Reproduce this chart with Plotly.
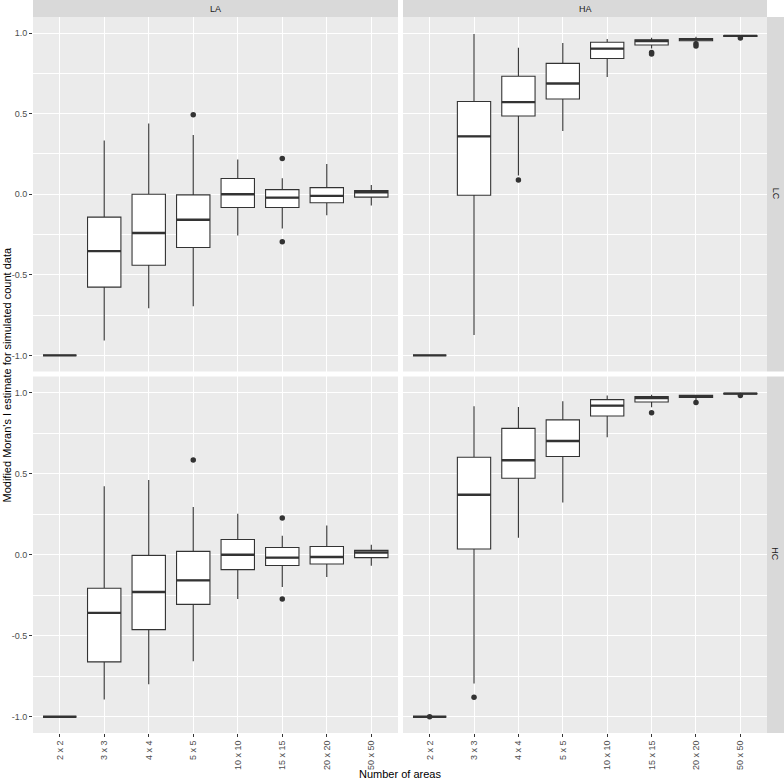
import plotly.graph_objects as go

categories = ["2 x 2", "3 x 3", "4 x 4", "5 x 5", "10 x 10", "15 x 15", "20 x 20", "50 x 50"]
col_labels = ["LA", "HA"]
row_labels = ["LC", "HC"]

# LA / LC
la_lc_low = [-1.0, -0.907, -0.708, -0.695, -0.256, -0.213, -0.131, -0.070]
la_lc_q1 = [-1.0, -0.576, -0.441, -0.330, -0.082, -0.082, -0.053, -0.018]
la_lc_med = [-1.0, -0.353, -0.240, -0.158, 0.000, -0.021, -0.010, 0.012]
la_lc_q3 = [-1.0, -0.142, 0.000, -0.004, 0.098, 0.029, 0.041, 0.023]
la_lc_high = [-1.0, 0.334, 0.439, 0.367, 0.215, 0.100, 0.187, 0.057]
la_lc_out_x = ["5 x 5", "15 x 15", "15 x 15"]
la_lc_out_y = [0.494, 0.222, -0.295]

# HA / LC
ha_lc_low = [-1.0, -0.874, 0.117, 0.392, 0.727, 0.905, 0.945, 0.979]
ha_lc_q1 = [-1.0, -0.006, 0.486, 0.591, 0.842, 0.926, 0.953, 0.980]
ha_lc_med = [-1.0, 0.359, 0.572, 0.687, 0.904, 0.951, 0.961, 0.983]
ha_lc_q3 = [-1.0, 0.576, 0.732, 0.812, 0.943, 0.959, 0.967, 0.985]
ha_lc_high = [-1.0, 0.995, 0.909, 0.939, 0.963, 0.971, 0.977, 0.988]
ha_lc_out_x = ["4 x 4", "15 x 15", "15 x 15", "20 x 20", "20 x 20", "50 x 50"]
ha_lc_out_y = [0.089, 0.880, 0.870, 0.934, 0.920, 0.969]

# LA / HC
la_hc_low = [-1.0, -0.893, -0.799, -0.657, -0.273, -0.199, -0.138, -0.068]
la_hc_q1 = [-1.0, -0.661, -0.462, -0.306, -0.092, -0.066, -0.057, -0.018]
la_hc_med = [-1.0, -0.359, -0.230, -0.158, 0.000, -0.018, -0.014, 0.014]
la_hc_q3 = [-1.0, -0.207, -0.004, 0.021, 0.094, 0.045, 0.051, 0.027]
la_hc_high = [-1.0, 0.423, 0.462, 0.294, 0.253, 0.117, 0.181, 0.062]
la_hc_out_x = ["5 x 5", "15 x 15", "15 x 15"]
la_hc_out_y = [0.585, 0.226, -0.273]

# HA / HC
ha_hc_low = [-1.0, -0.795, 0.105, 0.322, 0.725, 0.910, 0.951, 0.990]
ha_hc_q1 = [-1.0, 0.035, 0.472, 0.606, 0.856, 0.943, 0.970, 0.992]
ha_hc_med = [-1.0, 0.370, 0.583, 0.702, 0.920, 0.967, 0.978, 0.994]
ha_hc_q3 = [-1.0, 0.602, 0.780, 0.832, 0.957, 0.976, 0.984, 0.996]
ha_hc_high = [-1.0, 0.916, 0.912, 0.947, 0.982, 0.988, 0.988, 0.998]
ha_hc_out_x = ["2 x 2", "3 x 3", "15 x 15", "20 x 20", "50 x 50"]
ha_hc_out_y = [-1.0, -0.879, 0.877, 0.939, 0.982]

panels = [
    # (axis suffix, low, q1, med, q3, high, out_x, out_y)
    ("", la_lc_low, la_lc_q1, la_lc_med, la_lc_q3, la_lc_high, la_lc_out_x, la_lc_out_y),
    ("2", ha_lc_low, ha_lc_q1, ha_lc_med, ha_lc_q3, ha_lc_high, ha_lc_out_x, ha_lc_out_y),
    ("3", la_hc_low, la_hc_q1, la_hc_med, la_hc_q3, la_hc_high, la_hc_out_x, la_hc_out_y),
    ("4", ha_hc_low, ha_hc_q1, ha_hc_med, ha_hc_q3, ha_hc_high, ha_hc_out_x, ha_hc_out_y),
]

DARK = "#333333"
BOX_W = 0.75
pos = list(range(len(categories)))

fig = go.Figure()
for suf, low, q1, med, q3, high, ox, oy in panels:
    xa, ya = "x" + suf, "y" + suf
    fig.add_trace(go.Box(
        x=pos, q1=q1, median=med, q3=q3, lowerfence=low, upperfence=high,
        width=BOX_W, fillcolor="white", line=dict(color=DARK, width=1.1),
        whiskerwidth=0, boxpoints=False, showlegend=False, xaxis=xa, yaxis=ya,
        hoverinfo="skip",
    ))
    mx, my = [], []
    for i, m in enumerate(med):
        mx += [i - BOX_W / 2, i + BOX_W / 2, None]
        my += [m, m, None]
    fig.add_trace(go.Scatter(x=mx, y=my, mode="lines", line=dict(color=DARK, width=2.4),
                             showlegend=False, xaxis=xa, yaxis=ya, hoverinfo="skip"))
    fig.add_trace(go.Scatter(x=[categories.index(c) for c in ox], y=oy, mode="markers",
                             marker=dict(color=DARK, size=5.5), showlegend=False,
                             xaxis=xa, yaxis=ya, hoverinfo="skip"))

W, H = 784, 782
ML, MR, MT, MB = 33, 17, 17, 46
PW, PH = W - ML - MR, H - MT - MB

def fx(px):
    return (px - ML) / PW

def fy(py):
    return (H - MB - py) / PH

xdom = [[fx(33), fx(398)], [fx(403), fx(767)]]
ydom = [[fy(373), fy(17)], [fy(736), fy(378)]]

font_fam = "Liberation Sans, Arial, sans-serif"
axis_common = dict(showline=False, zeroline=False, gridcolor="white", gridwidth=1.1)

layout = dict(
    width=W, height=H, margin=dict(l=ML, r=MR, t=MT, b=MB),
    paper_bgcolor="white", plot_bgcolor="#EBEBEB",
    font=dict(family=font_fam, color="#4D4D4D", size=9),
    showlegend=False,
)

for k, suf in enumerate(["", "2", "3", "4"]):
    r, c = divmod(k, 2)
    bottom = r == 1
    left = c == 0
    layout["xaxis" + suf] = dict(
        axis_common, domain=xdom[c], anchor="y" + suf, range=[-0.6, 7.6],
        tickvals=pos, ticktext=categories,
        showticklabels=bottom, ticks="outside" if bottom else "",
        ticklen=3, tickcolor=DARK, tickwidth=1, tickangle=-90,
        tickfont=dict(size=9, color="#4D4D4D"),
    )
    layout["yaxis" + suf] = dict(
        axis_common, domain=ydom[r], anchor="x" + suf, range=[-1.1, 1.1],
        tickvals=[-1.0, -0.5, 0.0, 0.5, 1.0], ticktext=["-1.0", "-0.5", "0.0", "0.5", "1.0"],
        showticklabels=left, ticks="outside" if left else "",
        ticklen=3, tickcolor=DARK, tickwidth=1,
        tickfont=dict(size=9, color="#4D4D4D"),
        minor=dict(tickvals=[-0.75, -0.25, 0.25, 0.75], showgrid=True, gridcolor="white",
                   gridwidth=0.55, ticks=""),
    )

fig.update_layout(**layout)

shapes = []
annotations = []
STRIP = "#D9D9D9"
# column strips
for c, lab in enumerate(col_labels):
    shapes.append(dict(type="rect", xref="paper", yref="paper",
                       x0=xdom[c][0], x1=xdom[c][1], y0=fy(17), y1=fy(0),
                       fillcolor=STRIP, line=dict(width=0), layer="below"))
    annotations.append(dict(xref="paper", yref="paper", x=(xdom[c][0] + xdom[c][1]) / 2,
                            y=(fy(17) + fy(0)) / 2, text=lab, showarrow=False,
                            font=dict(size=9, color="#1A1A1A"), xanchor="center", yanchor="middle"))
# row strips
for r, lab in enumerate(row_labels):
    shapes.append(dict(type="rect", xref="paper", yref="paper",
                       x0=fx(767), x1=fx(784), y0=ydom[r][0], y1=ydom[r][1],
                       fillcolor=STRIP, line=dict(width=0), layer="below"))
    annotations.append(dict(xref="paper", yref="paper", x=(fx(767) + fx(784)) / 2,
                            y=(ydom[r][0] + ydom[r][1]) / 2, text=lab, showarrow=False,
                            textangle=90, font=dict(size=9, color="#1A1A1A"),
                            xanchor="center", yanchor="middle"))

annotations.append(dict(xref="paper", yref="paper", x=fx(400), y=fy(777),
                        text="Number of areas", showarrow=False,
                        font=dict(size=11, color="#000000"), xanchor="center", yanchor="middle"))
annotations.append(dict(xref="paper", yref="paper", x=fx(7), y=fy(377),
                        text="Modified Moran's I estimate for simulated count data", showarrow=False,
                        textangle=-90, font=dict(size=11, color="#000000"),
                        xanchor="center", yanchor="middle"))

fig.update_layout(shapes=shapes, annotations=annotations)
fig.write_html("out.html", config={"displayModeBar": False},
               post_script="document.body.style.margin='0';")
